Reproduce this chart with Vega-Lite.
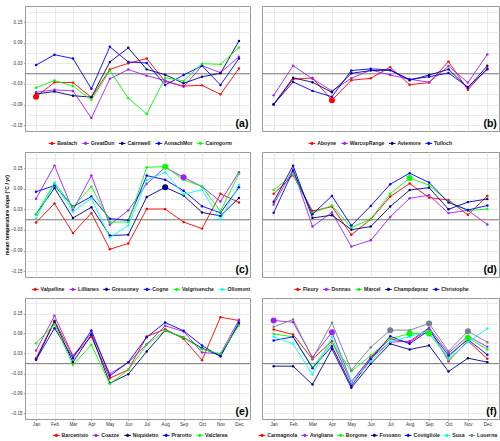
{
"$schema": "https://vega.github.io/schema/vega-lite/v6.json",
"background": "white",
"padding": {"left": 3, "top": 5, "right": 2, "bottom": 4},
"autosize": {"type": "pad"},
"bounds": "flush",
"columns": 2,
"spacing": {"row": 21, "column": 12},
"resolve": {"scale": {"color": "independent", "x": "independent", "y": "independent"}, "legend": {"color": "independent"}},
"datasets": {"rows": [
{"p":"a","s":"Bealach","m":"Jan","v":-0.067,"b":1},{"p":"a","s":"Bealach","m":"Feb","v":-0.025},{"p":"a","s":"Bealach","m":"Mar","v":-0.026},{"p":"a","s":"Bealach","m":"Apr","v":-0.069},{"p":"a","s":"Bealach","m":"May","v":0.0125},{"p":"a","s":"Bealach","m":"Jun","v":0.030},{"p":"a","s":"Bealach","m":"Jul","v":0.044},{"p":"a","s":"Bealach","m":"Aug","v":-0.023},{"p":"a","s":"Bealach","m":"Sep","v":-0.036},{"p":"a","s":"Bealach","m":"Oct","v":-0.034},{"p":"a","s":"Bealach","m":"Nov","v":-0.060},{"p":"a","s":"Bealach","m":"Dec","v":0.015},
{"p":"a","s":"GreatDun","m":"Jan","v":-0.054},{"p":"a","s":"GreatDun","m":"Feb","v":-0.047},{"p":"a","s":"GreatDun","m":"Mar","v":-0.050},{"p":"a","s":"GreatDun","m":"Apr","v":-0.129},{"p":"a","s":"GreatDun","m":"May","v":-0.015},{"p":"a","s":"GreatDun","m":"Jun","v":0.012},{"p":"a","s":"GreatDun","m":"Jul","v":-0.006},{"p":"a","s":"GreatDun","m":"Aug","v":-0.020},{"p":"a","s":"GreatDun","m":"Sep","v":-0.038},{"p":"a","s":"GreatDun","m":"Oct","v":0.023},{"p":"a","s":"GreatDun","m":"Nov","v":0.003},{"p":"a","s":"GreatDun","m":"Dec","v":0.049},
{"p":"a","s":"Cairnwell","m":"Jan","v":-0.059},{"p":"a","s":"Cairnwell","m":"Feb","v":-0.052},{"p":"a","s":"Cairnwell","m":"Mar","v":-0.064},{"p":"a","s":"Cairnwell","m":"Apr","v":-0.068},{"p":"a","s":"Cairnwell","m":"May","v":0.034},{"p":"a","s":"Cairnwell","m":"Jun","v":0.075},{"p":"a","s":"Cairnwell","m":"Jul","v":0.0125},{"p":"a","s":"Cairnwell","m":"Aug","v":-0.003},{"p":"a","s":"Cairnwell","m":"Sep","v":-0.028},{"p":"a","s":"Cairnwell","m":"Oct","v":-0.009},{"p":"a","s":"Cairnwell","m":"Nov","v":0.001},{"p":"a","s":"Cairnwell","m":"Dec","v":0.095},
{"p":"a","s":"AonachMor","m":"Jan","v":0.025},{"p":"a","s":"AonachMor","m":"Feb","v":0.055},{"p":"a","s":"AonachMor","m":"Mar","v":0.044},{"p":"a","s":"AonachMor","m":"Apr","v":-0.044},{"p":"a","s":"AonachMor","m":"May","v":0.078},{"p":"a","s":"AonachMor","m":"Jun","v":0.034},{"p":"a","s":"AonachMor","m":"Jul","v":0.031},{"p":"a","s":"AonachMor","m":"Aug","v":-0.033},{"p":"a","s":"AonachMor","m":"Sep","v":-0.004},{"p":"a","s":"AonachMor","m":"Oct","v":0.023},{"p":"a","s":"AonachMor","m":"Nov","v":-0.033},{"p":"a","s":"AonachMor","m":"Dec","v":0.044},
{"p":"a","s":"Cairngorm","m":"Jan","v":-0.041},{"p":"a","s":"Cairngorm","m":"Feb","v":-0.020},{"p":"a","s":"Cairngorm","m":"Mar","v":-0.036},{"p":"a","s":"Cairngorm","m":"Apr","v":-0.076},{"p":"a","s":"Cairngorm","m":"May","v":0.009},{"p":"a","s":"Cairngorm","m":"Jun","v":-0.071},{"p":"a","s":"Cairngorm","m":"Jul","v":-0.117},{"p":"a","s":"Cairngorm","m":"Aug","v":-0.012},{"p":"a","s":"Cairngorm","m":"Sep","v":-0.021},{"p":"a","s":"Cairngorm","m":"Oct","v":0.029},{"p":"a","s":"Cairngorm","m":"Nov","v":0.027},{"p":"a","s":"Cairngorm","m":"Dec","v":0.076},
{"p":"b","s":"Aboyne","m":"Jan","v":-0.090},{"p":"b","s":"Aboyne","m":"Feb","v":-0.016},{"p":"b","s":"Aboyne","m":"Mar","v":-0.0125},{"p":"b","s":"Aboyne","m":"Apr","v":-0.077,"b":1},{"p":"b","s":"Aboyne","m":"May","v":-0.019},{"p":"b","s":"Aboyne","m":"Jun","v":-0.0135},{"p":"b","s":"Aboyne","m":"Jul","v":0.019},{"p":"b","s":"Aboyne","m":"Aug","v":-0.032},{"p":"b","s":"Aboyne","m":"Sep","v":-0.026},{"p":"b","s":"Aboyne","m":"Oct","v":0.035},{"p":"b","s":"Aboyne","m":"Nov","v":-0.047},{"p":"b","s":"Aboyne","m":"Dec","v":0.016},
{"p":"b","s":"WarcopRange","m":"Jan","v":-0.063},{"p":"b","s":"WarcopRange","m":"Feb","v":0.023},{"p":"b","s":"WarcopRange","m":"Mar","v":-0.015},{"p":"b","s":"WarcopRange","m":"Apr","v":-0.050},{"p":"b","s":"WarcopRange","m":"May","v":-0.0135},{"p":"b","s":"WarcopRange","m":"Jun","v":0.011},{"p":"b","s":"WarcopRange","m":"Jul","v":-0.004},{"p":"b","s":"WarcopRange","m":"Aug","v":-0.016},{"p":"b","s":"WarcopRange","m":"Sep","v":-0.025},{"p":"b","s":"WarcopRange","m":"Oct","v":0.022},{"p":"b","s":"WarcopRange","m":"Nov","v":-0.026},{"p":"b","s":"WarcopRange","m":"Dec","v":0.056},
{"p":"b","s":"Aviemore","m":"Jan","v":-0.089},{"p":"b","s":"Aviemore","m":"Feb","v":-0.012},{"p":"b","s":"Aviemore","m":"Mar","v":-0.025},{"p":"b","s":"Aviemore","m":"Apr","v":-0.054},{"p":"b","s":"Aviemore","m":"May","v":0.001},{"p":"b","s":"Aviemore","m":"Jun","v":0.009},{"p":"b","s":"Aviemore","m":"Jul","v":0.010},{"p":"b","s":"Aviemore","m":"Aug","v":-0.019},{"p":"b","s":"Aviemore","m":"Sep","v":-0.004},{"p":"b","s":"Aviemore","m":"Oct","v":0.0125},{"p":"b","s":"Aviemore","m":"Nov","v":-0.041},{"p":"b","s":"Aviemore","m":"Dec","v":0.023},
{"p":"b","s":"Tulloch","m":"Jan","v":-0.089},{"p":"b","s":"Tulloch","m":"Feb","v":-0.024},{"p":"b","s":"Tulloch","m":"Mar","v":-0.050},{"p":"b","s":"Tulloch","m":"Apr","v":-0.067},{"p":"b","s":"Tulloch","m":"May","v":0.009},{"p":"b","s":"Tulloch","m":"Jun","v":0.014},{"p":"b","s":"Tulloch","m":"Jul","v":0.011},{"p":"b","s":"Tulloch","m":"Aug","v":-0.017},{"p":"b","s":"Tulloch","m":"Sep","v":-0.009},{"p":"b","s":"Tulloch","m":"Oct","v":0.002},{"p":"b","s":"Tulloch","m":"Nov","v":-0.039},{"p":"b","s":"Tulloch","m":"Dec","v":0.0125},
{"p":"c","s":"Valpelline","m":"Jan","v":-0.008},{"p":"c","s":"Valpelline","m":"Feb","v":0.047},{"p":"c","s":"Valpelline","m":"Mar","v":-0.039},{"p":"c","s":"Valpelline","m":"Apr","v":0.019},{"p":"c","s":"Valpelline","m":"May","v":-0.086},{"p":"c","s":"Valpelline","m":"Jun","v":-0.069},{"p":"c","s":"Valpelline","m":"Jul","v":0.031},{"p":"c","s":"Valpelline","m":"Aug","v":0.031},{"p":"c","s":"Valpelline","m":"Sep","v":-0.007},{"p":"c","s":"Valpelline","m":"Oct","v":-0.026},{"p":"c","s":"Valpelline","m":"Nov","v":0.075},{"p":"c","s":"Valpelline","m":"Dec","v":0.050},
{"p":"c","s":"Lillianes","m":"Jan","v":0.061},{"p":"c","s":"Lillianes","m":"Feb","v":0.157},{"p":"c","s":"Lillianes","m":"Mar","v":0.027},{"p":"c","s":"Lillianes","m":"Apr","v":0.128},{"p":"c","s":"Lillianes","m":"May","v":-0.015},{"p":"c","s":"Lillianes","m":"Jun","v":0.027},{"p":"c","s":"Lillianes","m":"Jul","v":0.104},{"p":"c","s":"Lillianes","m":"Aug","v":0.152},{"p":"c","s":"Lillianes","m":"Sep","v":0.123,"b":1},{"p":"c","s":"Lillianes","m":"Oct","v":0.096},{"p":"c","s":"Lillianes","m":"Nov","v":0.053},{"p":"c","s":"Lillianes","m":"Dec","v":0.138},
{"p":"c","s":"Gressoney","m":"Jan","v":0.016},{"p":"c","s":"Gressoney","m":"Feb","v":0.092},{"p":"c","s":"Gressoney","m":"Mar","v":0.005},{"p":"c","s":"Gressoney","m":"Apr","v":0.036},{"p":"c","s":"Gressoney","m":"May","v":-0.046},{"p":"c","s":"Gressoney","m":"Jun","v":-0.044},{"p":"c","s":"Gressoney","m":"Jul","v":0.066},{"p":"c","s":"Gressoney","m":"Aug","v":0.094,"b":1},{"p":"c","s":"Gressoney","m":"Sep","v":0.070},{"p":"c","s":"Gressoney","m":"Oct","v":0.021},{"p":"c","s":"Gressoney","m":"Nov","v":0.011},{"p":"c","s":"Gressoney","m":"Dec","v":0.063},
{"p":"c","s":"Cogne","m":"Jan","v":0.081},{"p":"c","s":"Cogne","m":"Feb","v":0.099},{"p":"c","s":"Cogne","m":"Mar","v":0.038},{"p":"c","s":"Cogne","m":"Apr","v":0.067},{"p":"c","s":"Cogne","m":"May","v":0.003},{"p":"c","s":"Cogne","m":"Jun","v":-0.002},{"p":"c","s":"Cogne","m":"Jul","v":0.128},{"p":"c","s":"Cogne","m":"Aug","v":0.116},{"p":"c","s":"Cogne","m":"Sep","v":0.084},{"p":"c","s":"Cogne","m":"Oct","v":0.039},{"p":"c","s":"Cogne","m":"Nov","v":0.020},{"p":"c","s":"Cogne","m":"Dec","v":0.094},
{"p":"c","s":"Valgrisenche","m":"Jan","v":0.016},{"p":"c","s":"Valgrisenche","m":"Feb","v":0.107},{"p":"c","s":"Valgrisenche","m":"Mar","v":0.037},{"p":"c","s":"Valgrisenche","m":"Apr","v":0.096},{"p":"c","s":"Valgrisenche","m":"May","v":-0.007},{"p":"c","s":"Valgrisenche","m":"Jun","v":-0.007},{"p":"c","s":"Valgrisenche","m":"Jul","v":0.152},{"p":"c","s":"Valgrisenche","m":"Aug","v":0.154,"b":1},{"p":"c","s":"Valgrisenche","m":"Sep","v":0.116},{"p":"c","s":"Valgrisenche","m":"Oct","v":0.096},{"p":"c","s":"Valgrisenche","m":"Nov","v":0.024},{"p":"c","s":"Valgrisenche","m":"Dec","v":0.133},
{"p":"c","s":"Ollomont","m":"Jan","v":0.004},{"p":"c","s":"Ollomont","m":"Feb","v":0.105},{"p":"c","s":"Ollomont","m":"Mar","v":0.023},{"p":"c","s":"Ollomont","m":"Apr","v":0.062},{"p":"c","s":"Ollomont","m":"May","v":-0.052},{"p":"c","s":"Ollomont","m":"Jun","v":-0.017},{"p":"c","s":"Ollomont","m":"Jul","v":0.115},{"p":"c","s":"Ollomont","m":"Aug","v":0.138},{"p":"c","s":"Ollomont","m":"Sep","v":0.074},{"p":"c","s":"Ollomont","m":"Oct","v":0.087},{"p":"c","s":"Ollomont","m":"Nov","v":0.000},{"p":"c","s":"Ollomont","m":"Dec","v":0.101},
{"p":"d","s":"Fleury","m":"Jan","v":0.075},{"p":"d","s":"Fleury","m":"Feb","v":0.129},{"p":"d","s":"Fleury","m":"Mar","v":0.025},{"p":"d","s":"Fleury","m":"Apr","v":0.038},{"p":"d","s":"Fleury","m":"May","v":-0.044},{"p":"d","s":"Fleury","m":"Jun","v":0.001},{"p":"d","s":"Fleury","m":"Jul","v":0.067},{"p":"d","s":"Fleury","m":"Aug","v":0.105},{"p":"d","s":"Fleury","m":"Sep","v":0.064},{"p":"d","s":"Fleury","m":"Oct","v":0.057},{"p":"d","s":"Fleury","m":"Nov","v":0.014},{"p":"d","s":"Fleury","m":"Dec","v":0.069},
{"p":"d","s":"Donnas","m":"Jan","v":0.044},{"p":"d","s":"Donnas","m":"Feb","v":0.146},{"p":"d","s":"Donnas","m":"Mar","v":-0.020},{"p":"d","s":"Donnas","m":"Apr","v":0.021},{"p":"d","s":"Donnas","m":"May","v":-0.078},{"p":"d","s":"Donnas","m":"Jun","v":-0.060},{"p":"d","s":"Donnas","m":"Jul","v":0.008},{"p":"d","s":"Donnas","m":"Aug","v":0.062},{"p":"d","s":"Donnas","m":"Sep","v":0.071},{"p":"d","s":"Donnas","m":"Oct","v":0.019},{"p":"d","s":"Donnas","m":"Nov","v":0.027},{"p":"d","s":"Donnas","m":"Dec","v":-0.014},
{"p":"d","s":"Marcel","m":"Jan","v":0.086},{"p":"d","s":"Marcel","m":"Feb","v":0.131},{"p":"d","s":"Marcel","m":"Mar","v":0.020},{"p":"d","s":"Marcel","m":"Apr","v":0.041},{"p":"d","s":"Marcel","m":"May","v":-0.023},{"p":"d","s":"Marcel","m":"Jun","v":0.002},{"p":"d","s":"Marcel","m":"Jul","v":0.075},{"p":"d","s":"Marcel","m":"Aug","v":0.121,"b":1},{"p":"d","s":"Marcel","m":"Sep","v":0.100},{"p":"d","s":"Marcel","m":"Oct","v":0.052},{"p":"d","s":"Marcel","m":"Nov","v":0.026},{"p":"d","s":"Marcel","m":"Dec","v":0.031},
{"p":"d","s":"Champdepraz","m":"Jan","v":0.052},{"p":"d","s":"Champdepraz","m":"Feb","v":0.157},{"p":"d","s":"Champdepraz","m":"Mar","v":0.005},{"p":"d","s":"Champdepraz","m":"Apr","v":0.013},{"p":"d","s":"Champdepraz","m":"May","v":-0.029},{"p":"d","s":"Champdepraz","m":"Jun","v":-0.020},{"p":"d","s":"Champdepraz","m":"Jul","v":0.038},{"p":"d","s":"Champdepraz","m":"Aug","v":0.086},{"p":"d","s":"Champdepraz","m":"Sep","v":0.093},{"p":"d","s":"Champdepraz","m":"Oct","v":0.030},{"p":"d","s":"Champdepraz","m":"Nov","v":0.051},{"p":"d","s":"Champdepraz","m":"Dec","v":0.060},
{"p":"d","s":"Christophe","m":"Jan","v":0.020},{"p":"d","s":"Christophe","m":"Feb","v":0.142},{"p":"d","s":"Christophe","m":"Mar","v":0.016},{"p":"d","s":"Christophe","m":"Apr","v":0.069},{"p":"d","s":"Christophe","m":"May","v":-0.017},{"p":"d","s":"Christophe","m":"Jun","v":0.040},{"p":"d","s":"Christophe","m":"Jul","v":0.103},{"p":"d","s":"Christophe","m":"Aug","v":0.135},{"p":"d","s":"Christophe","m":"Sep","v":0.108},{"p":"d","s":"Christophe","m":"Oct","v":0.050},{"p":"d","s":"Christophe","m":"Nov","v":0.028},{"p":"d","s":"Christophe","m":"Dec","v":0.041},
{"p":"e","s":"Barcenisio","m":"Jan","v":0.016},{"p":"e","s":"Barcenisio","m":"Feb","v":0.128},{"p":"e","s":"Barcenisio","m":"Mar","v":0.021},{"p":"e","s":"Barcenisio","m":"Apr","v":0.081},{"p":"e","s":"Barcenisio","m":"May","v":-0.044},{"p":"e","s":"Barcenisio","m":"Jun","v":-0.019},{"p":"e","s":"Barcenisio","m":"Jul","v":0.081},{"p":"e","s":"Barcenisio","m":"Aug","v":0.103},{"p":"e","s":"Barcenisio","m":"Sep","v":0.074},{"p":"e","s":"Barcenisio","m":"Oct","v":0.010},{"p":"e","s":"Barcenisio","m":"Nov","v":0.139},{"p":"e","s":"Barcenisio","m":"Dec","v":0.129},
{"p":"e","s":"Coazze","m":"Jan","v":0.039},{"p":"e","s":"Coazze","m":"Feb","v":0.143},{"p":"e","s":"Coazze","m":"Mar","v":0.023},{"p":"e","s":"Coazze","m":"Apr","v":0.091},{"p":"e","s":"Coazze","m":"May","v":-0.031},{"p":"e","s":"Coazze","m":"Jun","v":0.003},{"p":"e","s":"Coazze","m":"Jul","v":0.058},{"p":"e","s":"Coazze","m":"Aug","v":0.113},{"p":"e","s":"Coazze","m":"Sep","v":0.096},{"p":"e","s":"Coazze","m":"Oct","v":0.033},{"p":"e","s":"Coazze","m":"Nov","v":0.029},{"p":"e","s":"Coazze","m":"Dec","v":0.131},
{"p":"e","s":"Niquidetto","m":"Jan","v":0.011},{"p":"e","s":"Niquidetto","m":"Feb","v":0.126},{"p":"e","s":"Niquidetto","m":"Mar","v":0.004},{"p":"e","s":"Niquidetto","m":"Apr","v":0.086},{"p":"e","s":"Niquidetto","m":"May","v":-0.059},{"p":"e","s":"Niquidetto","m":"Jun","v":-0.032},{"p":"e","s":"Niquidetto","m":"Jul","v":0.036},{"p":"e","s":"Niquidetto","m":"Aug","v":0.099},{"p":"e","s":"Niquidetto","m":"Sep","v":0.078},{"p":"e","s":"Niquidetto","m":"Oct","v":0.046},{"p":"e","s":"Niquidetto","m":"Nov","v":0.023},{"p":"e","s":"Niquidetto","m":"Dec","v":0.119},
{"p":"e","s":"Prarotto","m":"Jan","v":0.011},{"p":"e","s":"Prarotto","m":"Feb","v":0.106},{"p":"e","s":"Prarotto","m":"Mar","v":0.016},{"p":"e","s":"Prarotto","m":"Apr","v":0.099},{"p":"e","s":"Prarotto","m":"May","v":-0.037},{"p":"e","s":"Prarotto","m":"Jun","v":0.004},{"p":"e","s":"Prarotto","m":"Jul","v":0.079},{"p":"e","s":"Prarotto","m":"Aug","v":0.123},{"p":"e","s":"Prarotto","m":"Sep","v":0.098},{"p":"e","s":"Prarotto","m":"Oct","v":0.054},{"p":"e","s":"Prarotto","m":"Nov","v":0.021},{"p":"e","s":"Prarotto","m":"Dec","v":0.123},
{"p":"e","s":"Valclarea","m":"Jan","v":0.061},{"p":"e","s":"Valclarea","m":"Feb","v":0.118},{"p":"e","s":"Valclarea","m":"Mar","v":-0.004},{"p":"e","s":"Valclarea","m":"Apr","v":0.056},{"p":"e","s":"Valclarea","m":"May","v":-0.061},{"p":"e","s":"Valclarea","m":"Jun","v":-0.019},{"p":"e","s":"Valclarea","m":"Jul","v":0.056},{"p":"e","s":"Valclarea","m":"Aug","v":0.099},{"p":"e","s":"Valclarea","m":"Sep","v":0.078},{"p":"e","s":"Valclarea","m":"Oct","v":0.043},{"p":"e","s":"Valclarea","m":"Nov","v":0.029},{"p":"e","s":"Valclarea","m":"Dec","v":0.114},
{"p":"f","s":"Carmagnola","m":"Jan","v":0.102},{"p":"f","s":"Carmagnola","m":"Feb","v":0.087},{"p":"f","s":"Carmagnola","m":"Mar","v":0.013},{"p":"f","s":"Carmagnola","m":"Apr","v":0.067},{"p":"f","s":"Carmagnola","m":"May","v":-0.057},{"p":"f","s":"Carmagnola","m":"Jun","v":0.019},{"p":"f","s":"Carmagnola","m":"Jul","v":0.074},{"p":"f","s":"Carmagnola","m":"Aug","v":0.063},{"p":"f","s":"Carmagnola","m":"Sep","v":0.106},{"p":"f","s":"Carmagnola","m":"Oct","v":0.007},{"p":"f","s":"Carmagnola","m":"Nov","v":0.068},{"p":"f","s":"Carmagnola","m":"Dec","v":0.014},
{"p":"f","s":"Avigliana","m":"Jan","v":0.129,"b":1},{"p":"f","s":"Avigliana","m":"Feb","v":0.124},{"p":"f","s":"Avigliana","m":"Mar","v":0.019},{"p":"f","s":"Avigliana","m":"Apr","v":0.094,"b":1},{"p":"f","s":"Avigliana","m":"May","v":-0.054},{"p":"f","s":"Avigliana","m":"Jun","v":0.016},{"p":"f","s":"Avigliana","m":"Jul","v":0.064},{"p":"f","s":"Avigliana","m":"Aug","v":0.067},{"p":"f","s":"Avigliana","m":"Sep","v":0.107},{"p":"f","s":"Avigliana","m":"Oct","v":0.031},{"p":"f","s":"Avigliana","m":"Nov","v":0.082},{"p":"f","s":"Avigliana","m":"Dec","v":0.050},
{"p":"f","s":"Borgone","m":"Jan","v":0.089},{"p":"f","s":"Borgone","m":"Feb","v":0.080},{"p":"f","s":"Borgone","m":"Mar","v":-0.011},{"p":"f","s":"Borgone","m":"Apr","v":0.062},{"p":"f","s":"Borgone","m":"May","v":-0.023},{"p":"f","s":"Borgone","m":"Jun","v":0.024},{"p":"f","s":"Borgone","m":"Jul","v":0.074},{"p":"f","s":"Borgone","m":"Aug","v":0.090,"b":1},{"p":"f","s":"Borgone","m":"Sep","v":0.090,"b":1},{"p":"f","s":"Borgone","m":"Oct","v":0.017},{"p":"f","s":"Borgone","m":"Nov","v":0.077,"b":1},{"p":"f","s":"Borgone","m":"Dec","v":0.042},
{"p":"f","s":"Fossano","m":"Jan","v":-0.008},{"p":"f","s":"Fossano","m":"Feb","v":-0.008},{"p":"f","s":"Fossano","m":"Mar","v":-0.063},{"p":"f","s":"Fossano","m":"Apr","v":0.044},{"p":"f","s":"Fossano","m":"May","v":-0.073},{"p":"f","s":"Fossano","m":"Jun","v":-0.001},{"p":"f","s":"Fossano","m":"Jul","v":0.059},{"p":"f","s":"Fossano","m":"Aug","v":0.042},{"p":"f","s":"Fossano","m":"Sep","v":0.054},{"p":"f","s":"Fossano","m":"Oct","v":-0.024},{"p":"f","s":"Fossano","m":"Nov","v":0.016},{"p":"f","s":"Fossano","m":"Dec","v":0.004},
{"p":"f","s":"Costigliole","m":"Jan","v":0.069},{"p":"f","s":"Costigliole","m":"Feb","v":0.080},{"p":"f","s":"Costigliole","m":"Mar","v":-0.014},{"p":"f","s":"Costigliole","m":"Apr","v":0.052},{"p":"f","s":"Costigliole","m":"May","v":-0.067},{"p":"f","s":"Costigliole","m":"Jun","v":0.013},{"p":"f","s":"Costigliole","m":"Jul","v":0.082},{"p":"f","s":"Costigliole","m":"Aug","v":0.059},{"p":"f","s":"Costigliole","m":"Sep","v":0.100},{"p":"f","s":"Costigliole","m":"Oct","v":0.024},{"p":"f","s":"Costigliole","m":"Nov","v":0.072},{"p":"f","s":"Costigliole","m":"Dec","v":0.026},
{"p":"f","s":"Susa","m":"Jan","v":0.080},{"p":"f","s":"Susa","m":"Feb","v":0.059},{"p":"f","s":"Susa","m":"Mar","v":-0.033},{"p":"f","s":"Susa","m":"Apr","v":0.080},{"p":"f","s":"Susa","m":"May","v":-0.055},{"p":"f","s":"Susa","m":"Jun","v":0.006},{"p":"f","s":"Susa","m":"Jul","v":0.066},{"p":"f","s":"Susa","m":"Aug","v":0.080},{"p":"f","s":"Susa","m":"Sep","v":0.098},{"p":"f","s":"Susa","m":"Oct","v":0.012},{"p":"f","s":"Susa","m":"Nov","v":0.064},{"p":"f","s":"Susa","m":"Dec","v":0.105},
{"p":"f","s":"Luserna","m":"Jan","v":0.110},{"p":"f","s":"Luserna","m":"Feb","v":0.132},{"p":"f","s":"Luserna","m":"Mar","v":0.015},{"p":"f","s":"Luserna","m":"Apr","v":0.122},{"p":"f","s":"Luserna","m":"May","v":-0.020},{"p":"f","s":"Luserna","m":"Jun","v":0.049},{"p":"f","s":"Luserna","m":"Jul","v":0.100,"b":1},{"p":"f","s":"Luserna","m":"Aug","v":0.100},{"p":"f","s":"Luserna","m":"Sep","v":0.120,"b":1},{"p":"f","s":"Luserna","m":"Oct","v":0.037},{"p":"f","s":"Luserna","m":"Nov","v":0.097,"b":1},{"p":"f","s":"Luserna","m":"Dec","v":0.064}
]},
"concat": [
{"width": 225, "height": 125, "resolve": {"axis": {"y": "independent"}}, "layer": [
 {"data": {"values": [{"zero": 0}]}, "mark": {"type": "rule", "color": "#7a7a7a", "strokeWidth": 0.9}, "encoding": {"y": {"field": "zero", "type": "quantitative", "scale": {"domain": [-0.1665, 0.1965], "nice": false, "zero": false}, "axis": {"orient": "left", "title": null, "values": [-0.15,-0.12,-0.09,-0.06,-0.03,0,0.03,0.06,0.09,0.12,0.15,0.18], "labels": false, "ticks": false, "grid": true, "domain": false, "zindex": 0}}}},
 {"data": {"name": "rows"}, "transform": [{"filter": "datum.p == 'a'"}], "mark": {"type": "line", "strokeWidth": 0.9}, "encoding": {
   "x": {"field": "m", "type": "ordinal", "sort": ["Jan","Feb","Mar","Apr","May","Jun","Jul","Aug","Sep","Oct","Nov","Dec"], "scale": {"type": "point", "padding": 0.6, "domain": ["Jan","Feb","Mar","Apr","May","Jun","Jul","Aug","Sep","Oct","Nov","Dec"]}, "axis": {"title": null, "labels": false, "ticks": false, "grid": true, "domain": false}},
   "y": {"field": "v", "type": "quantitative", "scale": {"domain": [-0.1665, 0.1965], "nice": false, "zero": false}, "axis": {"orient": "left", "title": null, "values": [-0.15,-0.09,-0.03,0.03,0.09,0.15], "format": ".2f", "labelOverlap": false, "grid": false, "domain": false}},
   "color": {"field": "s", "type": "nominal", "scale": {"domain": ["Bealach","GreatDun","Cairnwell","AonachMor","Cairngorm"], "range": ["#FF0000","#A020F0","#000080","#0000FF","#00FF00"]}, "legend": {"title": null, "orient": "none", "direction": "horizontal", "legendX": 23, "legendY": 133}},
   "order": {"value": null}}},
 {"data": {"name": "rows"}, "transform": [{"filter": "datum.p == 'a'"}], "mark": {"type": "point", "filled": true, "size": 6, "opacity": 1}, "encoding": {
   "x": {"field": "m", "type": "ordinal"}, "y": {"field": "v", "type": "quantitative", "axis": null}, "color": {"field": "s", "type": "nominal"}}},
 {"data": {"name": "rows"}, "transform": [{"filter": "datum.p == 'a' && datum.b == 1"}], "mark": {"type": "point", "filled": true, "size": 36, "opacity": 1}, "encoding": {
   "x": {"field": "m", "type": "ordinal"}, "y": {"field": "v", "type": "quantitative", "axis": null}, "color": {"field": "s", "type": "nominal"}}},
 {"data": {"values": [{"label": "(a)"}]}, "mark": {"type": "text", "align": "right", "baseline": "bottom", "dx": 9.5, "fontSize": 10.5, "fontWeight": "bold", "color": "#000000"}, "encoding": {"x": {"datum": "Dec"}, "y": {"datum": -0.162, "axis": null}, "text": {"field": "label"}}}
]},
{"width": 237, "height": 125, "resolve": {"axis": {"y": "independent"}}, "layer": [
 {"data": {"values": [{"zero": 0}]}, "mark": {"type": "rule", "color": "#7a7a7a", "strokeWidth": 0.9}, "encoding": {"y": {"field": "zero", "type": "quantitative", "scale": {"domain": [-0.1665, 0.1965], "nice": false, "zero": false}, "axis": {"orient": "left", "title": null, "values": [-0.15,-0.12,-0.09,-0.06,-0.03,0,0.03,0.06,0.09,0.12,0.15,0.18], "labels": false, "ticks": false, "grid": true, "domain": false, "zindex": 0}}}},
 {"data": {"name": "rows"}, "transform": [{"filter": "datum.p == 'b'"}], "mark": {"type": "line", "strokeWidth": 0.9}, "encoding": {
   "x": {"field": "m", "type": "ordinal", "sort": ["Jan","Feb","Mar","Apr","May","Jun","Jul","Aug","Sep","Oct","Nov","Dec"], "scale": {"type": "point", "padding": 0.6, "domain": ["Jan","Feb","Mar","Apr","May","Jun","Jul","Aug","Sep","Oct","Nov","Dec"]}, "axis": {"title": null, "labels": false, "ticks": false, "grid": true, "domain": false}},
   "y": {"field": "v", "type": "quantitative", "scale": {"domain": [-0.1665, 0.1965], "nice": false, "zero": false}, "axis": null},
   "color": {"field": "s", "type": "nominal", "scale": {"domain": ["Aboyne","WarcopRange","Aviemore","Tulloch"], "range": ["#FF0000","#A020F0","#000080","#0000FF"]}, "legend": {"title": null, "orient": "none", "direction": "horizontal", "legendX": 46, "legendY": 133}},
   "order": {"value": null}}},
 {"data": {"name": "rows"}, "transform": [{"filter": "datum.p == 'b'"}], "mark": {"type": "point", "filled": true, "size": 6, "opacity": 1}, "encoding": {
   "x": {"field": "m", "type": "ordinal"}, "y": {"field": "v", "type": "quantitative", "axis": null}, "color": {"field": "s", "type": "nominal"}}},
 {"data": {"name": "rows"}, "transform": [{"filter": "datum.p == 'b' && datum.b == 1"}], "mark": {"type": "point", "filled": true, "size": 36, "opacity": 1}, "encoding": {
   "x": {"field": "m", "type": "ordinal"}, "y": {"field": "v", "type": "quantitative", "axis": null}, "color": {"field": "s", "type": "nominal"}}},
 {"data": {"values": [{"label": "(b)"}]}, "mark": {"type": "text", "align": "right", "baseline": "bottom", "dx": 9.5, "fontSize": 10.5, "fontWeight": "bold", "color": "#000000"}, "encoding": {"x": {"datum": "Dec"}, "y": {"datum": -0.162, "axis": null}, "text": {"field": "label"}}}
]},
{"width": 225, "height": 125, "resolve": {"axis": {"y": "independent"}}, "layer": [
 {"data": {"values": [{"zero": 0}]}, "mark": {"type": "rule", "color": "#7a7a7a", "strokeWidth": 0.9}, "encoding": {"y": {"field": "zero", "type": "quantitative", "scale": {"domain": [-0.1665, 0.1965], "nice": false, "zero": false}, "axis": {"orient": "left", "title": null, "values": [-0.15,-0.12,-0.09,-0.06,-0.03,0,0.03,0.06,0.09,0.12,0.15,0.18], "labels": false, "ticks": false, "grid": true, "domain": false, "zindex": 0}}}},
 {"data": {"name": "rows"}, "transform": [{"filter": "datum.p == 'c'"}], "mark": {"type": "line", "strokeWidth": 0.9}, "encoding": {
   "x": {"field": "m", "type": "ordinal", "sort": ["Jan","Feb","Mar","Apr","May","Jun","Jul","Aug","Sep","Oct","Nov","Dec"], "scale": {"type": "point", "padding": 0.6, "domain": ["Jan","Feb","Mar","Apr","May","Jun","Jul","Aug","Sep","Oct","Nov","Dec"]}, "axis": {"title": null, "labels": false, "ticks": false, "grid": true, "domain": false}},
   "y": {"field": "v", "type": "quantitative", "scale": {"domain": [-0.1665, 0.1965], "nice": false, "zero": false}, "axis": {"orient": "left", "title": "mean temperature slope (°C / yr)", "titleFontSize": 5.2, "titleFontWeight": "bold", "titleColor": "#000000", "titlePadding": 1, "values": [-0.15,-0.09,-0.03,0.03,0.09,0.15], "format": ".2f", "labelOverlap": false, "grid": false, "domain": false}},
   "color": {"field": "s", "type": "nominal", "scale": {"domain": ["Valpelline","Lillianes","Gressoney","Cogne","Valgrisenche","Ollomont"], "range": ["#FF0000","#A020F0","#000080","#0000FF","#00FF00","#00FFFF"]}, "legend": {"title": null, "orient": "none", "direction": "horizontal", "legendX": 6.3, "legendY": 133}},
   "order": {"value": null}}},
 {"data": {"name": "rows"}, "transform": [{"filter": "datum.p == 'c'"}], "mark": {"type": "point", "filled": true, "size": 6, "opacity": 1}, "encoding": {
   "x": {"field": "m", "type": "ordinal"}, "y": {"field": "v", "type": "quantitative", "axis": null}, "color": {"field": "s", "type": "nominal"}}},
 {"data": {"name": "rows"}, "transform": [{"filter": "datum.p == 'c' && datum.b == 1"}], "mark": {"type": "point", "filled": true, "size": 36, "opacity": 1}, "encoding": {
   "x": {"field": "m", "type": "ordinal"}, "y": {"field": "v", "type": "quantitative", "axis": null}, "color": {"field": "s", "type": "nominal"}}},
 {"data": {"values": [{"label": "(c)"}]}, "mark": {"type": "text", "align": "right", "baseline": "bottom", "dx": 9.5, "fontSize": 10.5, "fontWeight": "bold", "color": "#000000"}, "encoding": {"x": {"datum": "Dec"}, "y": {"datum": -0.162, "axis": null}, "text": {"field": "label"}}}
]},
{"width": 237, "height": 125, "resolve": {"axis": {"y": "independent"}}, "layer": [
 {"data": {"values": [{"zero": 0}]}, "mark": {"type": "rule", "color": "#7a7a7a", "strokeWidth": 0.9}, "encoding": {"y": {"field": "zero", "type": "quantitative", "scale": {"domain": [-0.1665, 0.1965], "nice": false, "zero": false}, "axis": {"orient": "left", "title": null, "values": [-0.15,-0.12,-0.09,-0.06,-0.03,0,0.03,0.06,0.09,0.12,0.15,0.18], "labels": false, "ticks": false, "grid": true, "domain": false, "zindex": 0}}}},
 {"data": {"name": "rows"}, "transform": [{"filter": "datum.p == 'd'"}], "mark": {"type": "line", "strokeWidth": 0.9}, "encoding": {
   "x": {"field": "m", "type": "ordinal", "sort": ["Jan","Feb","Mar","Apr","May","Jun","Jul","Aug","Sep","Oct","Nov","Dec"], "scale": {"type": "point", "padding": 0.6, "domain": ["Jan","Feb","Mar","Apr","May","Jun","Jul","Aug","Sep","Oct","Nov","Dec"]}, "axis": {"title": null, "labels": false, "ticks": false, "grid": true, "domain": false}},
   "y": {"field": "v", "type": "quantitative", "scale": {"domain": [-0.1665, 0.1965], "nice": false, "zero": false}, "axis": null},
   "color": {"field": "s", "type": "nominal", "scale": {"domain": ["Fleury","Donnas","Marcel","Champdepraz","Christophe"], "range": ["#FF0000","#A020F0","#00FF00","#000080","#0000FF"]}, "legend": {"title": null, "orient": "none", "direction": "horizontal", "legendX": 31.7, "legendY": 133}},
   "order": {"value": null}}},
 {"data": {"name": "rows"}, "transform": [{"filter": "datum.p == 'd'"}], "mark": {"type": "point", "filled": true, "size": 6, "opacity": 1}, "encoding": {
   "x": {"field": "m", "type": "ordinal"}, "y": {"field": "v", "type": "quantitative", "axis": null}, "color": {"field": "s", "type": "nominal"}}},
 {"data": {"name": "rows"}, "transform": [{"filter": "datum.p == 'd' && datum.b == 1"}], "mark": {"type": "point", "filled": true, "size": 36, "opacity": 1}, "encoding": {
   "x": {"field": "m", "type": "ordinal"}, "y": {"field": "v", "type": "quantitative", "axis": null}, "color": {"field": "s", "type": "nominal"}}},
 {"data": {"values": [{"label": "(d)"}]}, "mark": {"type": "text", "align": "right", "baseline": "bottom", "dx": 9.5, "fontSize": 10.5, "fontWeight": "bold", "color": "#000000"}, "encoding": {"x": {"datum": "Dec"}, "y": {"datum": -0.162, "axis": null}, "text": {"field": "label"}}}
]},
{"width": 225, "height": 121, "resolve": {"axis": {"y": "independent"}}, "layer": [
 {"data": {"values": [{"zero": 0}]}, "mark": {"type": "rule", "color": "#7a7a7a", "strokeWidth": 0.9}, "encoding": {"y": {"field": "zero", "type": "quantitative", "scale": {"domain": [-0.1665, 0.1965], "nice": false, "zero": false}, "axis": {"orient": "left", "title": null, "values": [-0.15,-0.12,-0.09,-0.06,-0.03,0,0.03,0.06,0.09,0.12,0.15,0.18], "labels": false, "ticks": false, "grid": true, "domain": false, "zindex": 0}}}},
 {"data": {"name": "rows"}, "transform": [{"filter": "datum.p == 'e'"}], "mark": {"type": "line", "strokeWidth": 0.9}, "encoding": {
   "x": {"field": "m", "type": "ordinal", "sort": ["Jan","Feb","Mar","Apr","May","Jun","Jul","Aug","Sep","Oct","Nov","Dec"], "scale": {"type": "point", "padding": 0.6, "domain": ["Jan","Feb","Mar","Apr","May","Jun","Jul","Aug","Sep","Oct","Nov","Dec"]}, "axis": {"title": null, "labelAngle": 0, "labelPadding": 0.5, "labelOverlap": false, "grid": true, "domain": false}},
   "y": {"field": "v", "type": "quantitative", "scale": {"domain": [-0.1665, 0.1965], "nice": false, "zero": false}, "axis": {"orient": "left", "title": null, "values": [-0.15,-0.09,-0.03,0.03,0.09,0.15], "format": ".2f", "labelOverlap": false, "grid": false, "domain": false}},
   "color": {"field": "s", "type": "nominal", "scale": {"domain": ["Barcenisio","Coazze","Niquidetto","Prarotto","Valclarea"], "range": ["#FF0000","#A020F0","#000080","#0000FF","#00FF00"]}, "legend": {"title": null, "orient": "none", "direction": "horizontal", "legendX": 27.4, "legendY": 133}},
   "order": {"value": null}}},
 {"data": {"name": "rows"}, "transform": [{"filter": "datum.p == 'e'"}], "mark": {"type": "point", "filled": true, "size": 6, "opacity": 1}, "encoding": {
   "x": {"field": "m", "type": "ordinal"}, "y": {"field": "v", "type": "quantitative", "axis": null}, "color": {"field": "s", "type": "nominal"}}},
 {"data": {"values": [{"label": "(e)"}]}, "mark": {"type": "text", "align": "right", "baseline": "bottom", "dx": 9.5, "fontSize": 10.5, "fontWeight": "bold", "color": "#000000"}, "encoding": {"x": {"datum": "Dec"}, "y": {"datum": -0.16, "axis": null}, "text": {"field": "label"}}}
]},
{"width": 237, "height": 121, "resolve": {"axis": {"y": "independent"}}, "layer": [
 {"data": {"values": [{"zero": 0}]}, "mark": {"type": "rule", "color": "#7a7a7a", "strokeWidth": 0.9}, "encoding": {"y": {"field": "zero", "type": "quantitative", "scale": {"domain": [-0.1665, 0.1965], "nice": false, "zero": false}, "axis": {"orient": "left", "title": null, "values": [-0.15,-0.12,-0.09,-0.06,-0.03,0,0.03,0.06,0.09,0.12,0.15,0.18], "labels": false, "ticks": false, "grid": true, "domain": false, "zindex": 0}}}},
 {"data": {"name": "rows"}, "transform": [{"filter": "datum.p == 'f'"}], "mark": {"type": "line", "strokeWidth": 0.9}, "encoding": {
   "x": {"field": "m", "type": "ordinal", "sort": ["Jan","Feb","Mar","Apr","May","Jun","Jul","Aug","Sep","Oct","Nov","Dec"], "scale": {"type": "point", "padding": 0.6, "domain": ["Jan","Feb","Mar","Apr","May","Jun","Jul","Aug","Sep","Oct","Nov","Dec"]}, "axis": {"title": null, "labelAngle": 0, "labelPadding": 0.5, "labelOverlap": false, "grid": true, "domain": false}},
   "y": {"field": "v", "type": "quantitative", "scale": {"domain": [-0.1665, 0.1965], "nice": false, "zero": false}, "axis": null},
   "color": {"field": "s", "type": "nominal", "scale": {"domain": ["Carmagnola","Avigliana","Borgone","Fossano","Costigliole","Susa","Luserna"], "range": ["#FF0000","#A020F0","#00FF00","#000080","#0000FF","#00FFFF","#708090"]}, "legend": {"title": null, "orient": "none", "direction": "horizontal", "legendX": -4, "legendY": 133, "columnPadding": 0.8}},
   "order": {"value": null}}},
 {"data": {"name": "rows"}, "transform": [{"filter": "datum.p == 'f'"}], "mark": {"type": "point", "filled": true, "size": 6, "opacity": 1}, "encoding": {
   "x": {"field": "m", "type": "ordinal"}, "y": {"field": "v", "type": "quantitative", "axis": null}, "color": {"field": "s", "type": "nominal"}}},
 {"data": {"name": "rows"}, "transform": [{"filter": "datum.p == 'f' && datum.b == 1"}], "mark": {"type": "point", "filled": true, "size": 36, "opacity": 1}, "encoding": {
   "x": {"field": "m", "type": "ordinal"}, "y": {"field": "v", "type": "quantitative", "axis": null}, "color": {"field": "s", "type": "nominal"}}},
 {"data": {"values": [{"label": "(f)"}]}, "mark": {"type": "text", "align": "right", "baseline": "bottom", "dx": 9.5, "fontSize": 10.5, "fontWeight": "bold", "color": "#000000"}, "encoding": {"x": {"datum": "Dec"}, "y": {"datum": -0.16, "axis": null}, "text": {"field": "label"}}}
]}
],
"config": {
 "font": "Liberation Sans",
 "view": {"stroke": "#9a9a9a", "strokeWidth": 1},
 "axis": {"domain": false, "gridColor": "#e3e3e3", "gridWidth": 0.8, "tickColor": "#555555", "tickWidth": 0.5, "tickSize": 1.5, "labelFont": "Liberation Sans", "labelFontSize": 4.6, "labelColor": "#333333", "labelPadding": 1.5, "labelOverlap": false, "labelBound": false, "titleFont": "Liberation Sans"},
 "legend": {"labelFont": "Liberation Sans", "labelFontSize": 5.2, "labelFontWeight": "bold", "labelColor": "#222222", "symbolType": "M-1,0H1M-0.36,0A0.36,0.36,0,1,1,0.36,0A0.36,0.36,0,1,1,-0.36,0Z", "symbolSize": 45, "symbolStrokeWidth": 1, "labelOffset": 1.2, "columnPadding": 1.6, "padding": 0}
}
}
